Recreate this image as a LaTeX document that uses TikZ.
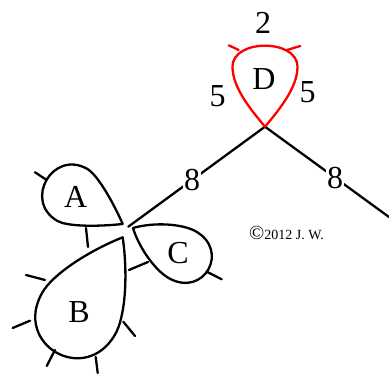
\documentclass[tikz,border=0pt]{standalone}
\usepackage{fontspec}
\setmainfont{Liberation Serif}
\usetikzlibrary{calc}
\definecolor{DropRed}{HTML}{FF0000}
\tikzset{
  edge/.style={line width=2.3pt,line cap=round,line join=round},
  lbl/.style={font=\fontsize{32}{32}\selectfont,inner sep=1pt},
  cut/.style={lbl,fill=white}
}
% teardrop: [style]{tip}{axis}{spread}{widest at}{half width}{cap ctrl}{neck ctrl}{side ctrl}
\newcommand{\Petal}[9][]{%
  \draw[edge,#1] (#2) .. controls +({#3+#4}:#8) and +({#3+180}:#9)
    .. ($(#2)+(#3:#5)+({#3+90}:#6)$)
    .. controls +(#3:#7) and +(#3:#7) .. ($(#2)+(#3:#5)+({#3-90}:#6)$)
    .. controls +({#3+180}:#9) and +({#3-#4}:#8) .. (#2);}

\begin{document}
\begin{tikzpicture}[x=1pt,y=1pt]
  \useasboundingbox (0,0) rectangle (389,374);
  % tips of the drops, ends of the long edges
  \coordinate (tipD) at (265,247.3);
  \coordinate (tipA) at (122.7,150);
  \coordinate (tipB) at (122.7,136.7);
  \coordinate (tipC) at (133,146);
  \coordinate (jct) at (128.3,147.3);
  \coordinate (rEnd) at (389,157);
  \draw[edge] (tipD) -- node[cut,pos=.534] (eL) {8} (jct);
  \draw[edge] (tipD) -- node[cut,pos=.565] (eR) {8} (rEnd);
  % drops
  \Petal{tipA}{150}{36}{58}{30}{40}{30}{10}
  \Petal{tipB}{240}{38}{88}{42}{60}{40}{20}
  \Petal{tipC}{-28.5}{44.5}{56}{27}{40}{22}{15}
  \Petal[DropRed]{tipD}{90}{40}{60}{32.5}{28}{25}{20}
  % stubs and short links
  \foreach \xa/\ya/\xb/\yb in {35/201.7/46.7/194, 26/99/45/94, 12.7/46/30/53.3,
      46.7/8/55/24, 97.7/1/95.7/17, 135/38/123.3/52.3, 221.7/94.7/206.7/102.3,
      86/146/88/127, 129/104/148/112}
    \draw[edge] (\xa,\ya) -- (\xb,\yb);
  \foreach \xa/\ya/\xb/\yb in {228.7/328.7/238.7/324, 300.3/328/287/324}
    \draw[edge,DropRed] (\xa,\ya) -- (\xb,\yb);
  % labels
  \node[lbl] (A) at (75.8,177.3) {A};
  \node[lbl] (B) at (79,61.5) {B};
  \node[lbl] (C) at (178,121) {C};
  \node[lbl] (D) at (264,294.5) {D};
  \node[lbl] (two) at (263,351.5) {2};
  \node[lbl] (fiveL) at (217.5,278) {5};
  \node[lbl] (fiveR) at (307.5,281.5) {5};
  \node[anchor=base west,inner sep=0pt] (cpr) at (249,134)
    {{\fontsize{20}{20}\selectfont\textcopyright}\fontsize{14}{14}\selectfont 2012 J. W.};
\end{tikzpicture}
\end{document}
